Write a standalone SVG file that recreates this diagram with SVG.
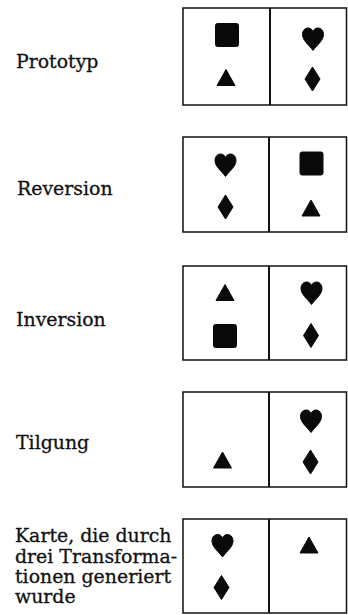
<svg xmlns="http://www.w3.org/2000/svg" xmlns:xlink="http://www.w3.org/1999/xlink" width="348" height="615" viewBox="0 0 348 615">
<style>
.lbl{font-family:"DejaVu Serif","Liberation Serif",serif;font-size:18.9px;fill:#111;stroke:#111;stroke-width:0.3}
.card{fill:#fff;stroke:#111;stroke-width:1.5}
.div{stroke:#111;stroke-width:2}
.sym{fill:#0a0a0a;stroke:#0a0a0a;stroke-width:1;stroke-linejoin:round}
</style>
<defs>
<path id="heart" class="sym" d="M0,11.5 C-4,6 -10.5,1.5 -10.5,-4.5 C-10.5,-9 -7.5,-11 -5,-11 C-2.5,-11 -0.5,-9.5 0,-7 C0.5,-9.5 2.5,-11 5,-11 C7.5,-11 10.5,-9 10.5,-4.5 C10.5,1.5 4,6 0,11.5 Z"/>
<path id="diamond" class="sym" d="M0,-12 L7.5,0 L0,12 L-7.5,0 Z"/>
<rect id="square" class="sym" x="-11.5" y="-11.5" width="23" height="23" rx="2"/>
<path id="triangle" class="sym" d="M0,-8 L9,8 L-9,8 Z"/>
</defs>
<rect width="348" height="615" fill="#fff"/>
<g id="labels">
<text class="lbl" x="16" y="68">Prototyp</text>
<text class="lbl" x="17" y="195">Reversion</text>
<text class="lbl" x="16" y="326">Inversion</text>
<text class="lbl" x="16" y="449">Tilgung</text>
<text class="lbl" x="15" y="542">Karte, die durch</text>
<text class="lbl" x="15" y="563">drei Transforma-</text>
<text class="lbl" x="15" y="583">tionen generiert</text>
<text class="lbl" x="15" y="603">wurde</text>
</g>
<g id="card-prototyp">
<rect class="card" x="183" y="8" width="163.5" height="97"/>
<line class="div" x1="270" y1="8" x2="270" y2="105"/>
<use xlink:href="#square" x="227" y="35"/>
<use xlink:href="#triangle" x="226" y="77.5"/>
<use xlink:href="#heart" x="313" y="39"/>
<use xlink:href="#diamond" x="312.5" y="79"/>
</g>
<g id="card-reversion">
<rect class="card" x="183" y="137" width="163.5" height="95"/>
<line class="div" x1="269" y1="137" x2="269" y2="232"/>
<use xlink:href="#heart" x="225.5" y="165"/>
<use xlink:href="#diamond" x="225.5" y="207"/>
<use xlink:href="#square" x="311.5" y="163.5"/>
<use xlink:href="#triangle" x="311" y="208"/>
</g>
<g id="card-inversion">
<rect class="card" x="183" y="266" width="163.5" height="94"/>
<line class="div" x1="269" y1="266" x2="269" y2="360"/>
<use xlink:href="#triangle" x="225" y="292.5"/>
<use xlink:href="#square" x="225" y="336"/>
<use xlink:href="#heart" x="311.5" y="293"/>
<use xlink:href="#diamond" x="311" y="335.5"/>
</g>
<g id="card-tilgung">
<rect class="card" x="183" y="392" width="163.5" height="95"/>
<line class="div" x1="269" y1="392" x2="269" y2="487"/>
<use xlink:href="#triangle" x="222.5" y="460"/>
<use xlink:href="#heart" x="311" y="421"/>
<use xlink:href="#diamond" x="310.5" y="462"/>
</g>
<g id="card-drei-transformationen">
<rect class="card" x="183" y="519" width="163.5" height="94"/>
<line class="div" x1="269" y1="519" x2="269" y2="613"/>
<use xlink:href="#heart" x="222.5" y="545.5"/>
<use xlink:href="#diamond" x="221.5" y="587.5"/>
<use xlink:href="#triangle" x="309" y="545"/>
</g>
<g id="connectors"/>
</svg>
